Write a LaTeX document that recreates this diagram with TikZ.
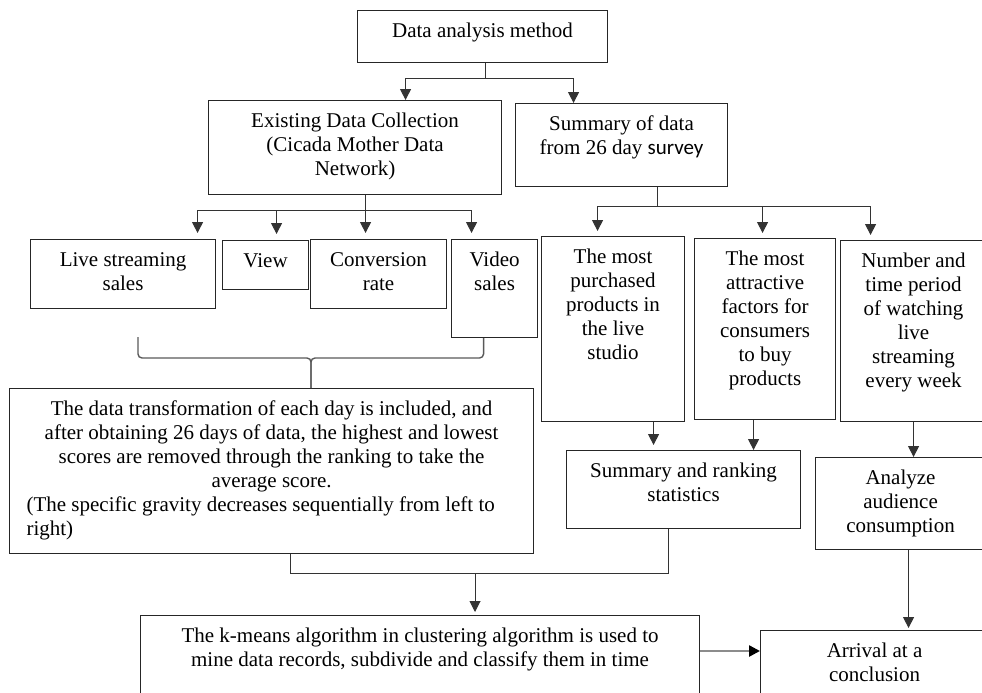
\documentclass[tikz,border=0pt]{standalone}
\usepackage{fontspec}
\setmainfont{Liberation Serif}
\newfontfamily\surveyfont{Carlito}
\usetikzlibrary{arrows.meta}

\tikzset{
  box/.style 2 args={draw=black!85, line width=1.1pt, inner sep=0pt, anchor=north west,
    execute at begin node={\begin{minipage}[t][#2][t]{#1}\centering\vspace*{10.5pt}\strut},
    execute at end node={\end{minipage}}},
  link/.style={draw=black!80, line width=1pt},
  arr/.style={link, -{Triangle[length=11pt,width=11pt]}},
  brace/.style={draw=black!65, line width=1.4pt, rounded corners=4pt},
}

\begin{document}
\begin{tikzpicture}[x=1pt,y=-1pt,font=\fontsize{21}{24}\selectfont]
\useasboundingbox (0,0) rectangle (982,693);

% boxes
\node[box={250pt}{52pt}] (method) at (357,10) {Data analysis method};
\node[box={293pt}{94pt}] (existing) at (208,100) {Existing Data Collection\\(Cicada Mother Data\\Network)};
\node[box={212pt}{83pt}] (survey) at (515,103) {Summary of data\\from 26 day {\surveyfont survey}};

\node[box={185pt}{69pt}] (live) at (30,239) {Live streaming\\sales};
\node[box={86pt}{49pt}] (view) at (222,240) {View};
\node[box={136pt}{69pt}] (conv) at (310,239) {Conversion\\rate};
\node[box={86pt}{98pt}] (video) at (451,239) {Video\\sales};

\node[box={143pt}{185pt}] (purchased) at (541,236) {The most\\purchased\\products in\\the live\\studio};
\node[box={141pt}{181pt}] (attractive) at (694,238) {The most\\attractive\\factors for\\consumers\\to buy\\products};
\node[box={146pt}{181pt}] (watching) at (840,240) {Number and\\time period\\of watching\\live\\streaming\\every week};

\node[box={524pt}{165pt}] (daily) at (9,388) {The data transformation of each day is included, and\\after obtaining 26 days of data, the highest and lowest\\scores are removed through the ranking to take the\\average score.\par
  \raggedright\leftskip=17pt (The specific gravity decreases sequentially from left to\\right)\par};
\node[box={234pt}{78pt}] (ranking) at (566,450) {Summary and ranking\\statistics};
\node[box={170pt}{92pt}] (audience) at (815,457) {Analyze\\audience\\consumption};
\node[box={559pt}{90pt}] (kmeans) at (140,615) {The k-means algorithm in clustering algorithm is used to\\mine data records, subdivide and classify them in time};
\node[box={228pt}{80pt}] (conclusion) at (760,630) {Arrival at a\\conclusion};

% first split
\coordinate (top split) at (485,78);
\draw[link] (method.south -| top split) -- (top split);
\draw[arr] (top split) -| ([xshift=50.5pt]existing.north);
\draw[arr] (top split) -| ([xshift=-48pt]survey.north);

% existing data
\coordinate (data split) at (365,210);
\draw[link] (existing.south -| data split) -- (data split);
\foreach \n/\s in {live/74.5, view/11, conv/-13, video/-23}
  \draw[arr, shorten >=6pt] (data split) -| ([xshift=\s pt]\n.north);

% survey data
\coordinate (survey split) at (657,206);
\draw[link] (survey.south -| survey split) -- (survey split);
\foreach \n/\s in {purchased/-15.5, attractive/-2.5, watching/-43}
  \draw[arr, shorten >=5pt] (survey split) -| ([xshift=\s pt]\n.north);

% brace
\coordinate (brace end) at (138,337);
\coordinate (brace mid) at (311,358);
\draw[brace] (brace end) |- (brace mid) -- (brace mid |- daily.north);
\draw[brace] ([xshift=-11pt]video.south) |- (brace mid) -- (brace mid |- daily.north);

% into ranking
\coordinate (p out) at ([xshift=40.5pt]purchased.south);
\draw[arr, shorten >=5pt] (p out) -- (p out |- ranking.north);
\coordinate (a out) at ([xshift=-11.5pt]attractive.south);
\draw[arr] (a out) -- (a out |- ranking.north);

% into k-means
\coordinate (merge) at (475,573);
\draw[link] ([xshift=19pt]daily.south) |- (merge);
\draw[link] ([xshift=-15pt]ranking.south) |- (merge);
\draw[arr, shorten >=3pt] (merge) -- (merge |- kmeans.north);

% right column
\draw[arr] (watching.south) -- (watching.south |- audience.north);
\coordinate (au out) at ([xshift=8pt]audience.south);
\draw[arr, shorten >=2pt] (au out) -- (au out |- conclusion.north);

\coordinate (k out) at ([yshift=-36pt]kmeans.north east);
\draw[line width=2.5pt, black!45, -{Triangle[length=11pt,width=11pt,color=black]}] (k out) -- (k out -| conclusion.west);
\end{tikzpicture}
\end{document}
